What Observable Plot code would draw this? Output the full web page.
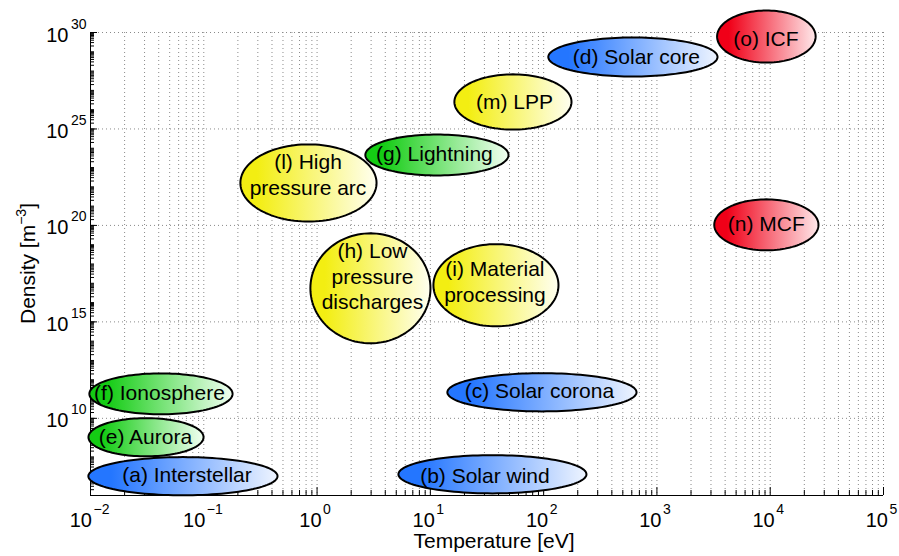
<!DOCTYPE html>
<html>
<head>
<meta charset="utf-8">
<script src="https://cdn.jsdelivr.net/npm/d3@7"></script>
<script src="https://cdn.jsdelivr.net/npm/@observablehq/plot@0.6"></script>
<style>
  html, body { margin: 0; padding: 0; background: #fff; }
  #chart svg { display: block; overflow: visible; }
</style>
</head>
<body>
<div id="chart"></div>
<script>
// ---- Data (log10 units) ----
const names      = ["(a) Interstellar", "(b) Solar wind", "(c) Solar corona", "(d) Solar core",
                    "(e) Aurora", "(f) Ionosphere", "(g) Lightning",
                    "(h) Low\npressure\ndischarges", "(i) Material\nprocessing", "(l) High\npressure arc", "(m) LPP",
                    "(n) MCF", "(o) ICF"];
const groups     = ["blue", "blue", "blue", "blue", "green", "green", "green",
                    "yellow", "yellow", "yellow", "yellow", "red", "red"];
// ellipse centre (log10 T [eV], log10 n [m^-3]) and half-extent in decades
const tempCenter = [-1.184, 1.548, 1.985, 2.788, -1.510, -1.378, 1.058, 0.471, 1.579, -0.076, 1.729, 3.966, 3.966];
const tempHalf   = [0.835, 0.830, 0.835, 0.747, 0.508, 0.632, 0.632, 0.530, 0.552, 0.601, 0.517, 0.460, 0.435];
const densCenter = [7.00, 7.10, 11.35, 28.73, 9.02, 11.27, 23.65, 16.74, 16.90, 22.20, 26.40, 20.03, 29.79];
const densHalf   = [0.99, 0.99, 0.99, 1.01, 0.99, 1.06, 1.06, 2.85, 2.13, 2.00, 1.43, 1.32, 1.35];
// label anchor positions (log10)
const labelTemp  = [-1.148, 1.482, 1.963, 2.819, -1.515, -1.391, 1.036, 0.489, 1.570, -0.080, 1.742, 3.966, 3.962];
const labelDens  = [7.10, 7.05, 11.48, 28.76, 9.09, 11.35, 23.76, 17.40, 17.12, 22.67, 26.45, 20.13, 29.72];

const xExponents = [-2, -1, 0, 1, 2, 3, 4, 5];
const yExponents = [10, 15, 20, 25, 30];
const colorStops = {
  blue:   ["#2476ff", "#eef4ff"],
  green:  ["#14cc14", "#f2fff2"],
  yellow: ["#f3ee12", "#fffff0"],
  red:    ["#f00018", "#ffe8ea"]
};

// ---- Derived ----
const W = 899, H = 556;
const mL = 90, mR = 16, mT = 32, mB = 61;
const plotW = W - mL - mR, plotH = H - mT - mB;
const FONT = "Liberation Sans, Arial, Helvetica, sans-serif";

const outline = [];
const steps = 120;
names.forEach((name, i) => {
  for (let k = 0; k < steps; k++) {
    const a = (2 * Math.PI * k) / steps;
    outline.push({
      id: i, group: groups[i],
      T: Math.pow(10, tempCenter[i] + tempHalf[i] * Math.cos(a)),
      n: Math.pow(10, densCenter[i] + densHalf[i] * Math.sin(a))
    });
  }
});
const labels = names.map((name, i) => ({name, T: Math.pow(10, labelTemp[i]), n: Math.pow(10, labelDens[i])}));

const xMinor = [];
for (let e = -2; e < 5; e++) for (let m = 1; m <= 9; m++) xMinor.push(m * Math.pow(10, e));
xMinor.push(1e5);
const yMinor = [];
for (let e = 6; e < 30; e++) for (let m = 1; m <= 9; m++) yMinor.push(m * Math.pow(10, e));
yMinor.push(1e30);
const xMajor = xExponents.map(e => Math.pow(10, e));
const yMajor = yExponents.map(e => Math.pow(10, e));
const xGrid = xMinor.filter(v => v > 1.0001e-2);

const defs = () => {
  const d = d3.create("svg:defs");
  for (const [key, [c0, c1]] of Object.entries(colorStops)) {
    const g = d.append("linearGradient").attr("id", "g-" + key)
      .attr("x1", 0).attr("x2", 1).attr("y1", 0).attr("y2", 0);
    g.append("stop").attr("offset", "0").attr("stop-color", c0);
    g.append("stop").attr("offset", "0.12").attr("stop-color", c0);
    g.append("stop").attr("offset", "1").attr("stop-color", c1);
  }
  return d.node();
};

const yTitle = (index, scales, values, dims) => {
  const cy = (dims.marginTop + dims.height - dims.marginBottom) / 2;
  const t = d3.create("svg:text")
    .attr("transform", `translate(35,${cy}) rotate(-90)`)
    .attr("text-anchor", "middle")
    .attr("font-family", FONT)
    .attr("font-size", 21)
    .attr("fill", "black");
  t.append("tspan").text("Density [m");
  t.append("tspan").attr("dy", -9).attr("font-size", 14).text("−3");
  t.append("tspan").attr("dy", 9).text("]");
  return t.node();
};

const ellipseMark = (key) => Plot.line(outline.filter(d => d.group === key), {
  x: "T", y: "n", z: "id", curve: "linear-closed",
  fill: `url(#g-${key})`, stroke: "black", strokeWidth: 2
});

const chart = Plot.plot({
  width: W, height: H,
  marginLeft: mL, marginRight: mR, marginTop: mT, marginBottom: mB,
  style: {fontFamily: FONT, background: "white", color: "black"},
  x: {type: "log", domain: [1e-2, 1e5], axis: null},
  y: {type: "log", domain: [1e6, 1e30], axis: null},
  marks: [
    defs,
    // grid
    Plot.ruleX(xGrid, {x: d => d, stroke: "#8a8a8a", strokeWidth: 1, strokeDasharray: "1,3"}),
    Plot.ruleY(yMajor, {y: d => d, stroke: "#8a8a8a", strokeWidth: 1, strokeDasharray: "1,3"}),
    // ticks (inward)
    Plot.ruleX(xMinor.filter(v => !xMajor.some(m => Math.abs(m / v - 1) < 1e-6)), {x: d => d, stroke: "black", insetTop: plotH - 5}),
    Plot.ruleX(xMajor, {x: d => d, stroke: "black", insetTop: plotH - 8}),
    Plot.ruleY(yMinor, {y: d => d, stroke: "black", insetRight: plotW - 4}),
    Plot.ruleY(yMajor, {y: d => d, stroke: "black", insetRight: plotW - 7}),
    // axis lines
    Plot.ruleY([1e6], {stroke: "black", strokeWidth: 1}),
    Plot.ruleX([1e-2], {stroke: "black", strokeWidth: 1}),
    // ellipses
    ellipseMark("yellow"),
    ellipseMark("green"),
    ellipseMark("blue"),
    ellipseMark("red"),
    Plot.text(labels, {x: "T", y: "n", text: "name", fontSize: 21, lineHeight: 1.2, fill: "black", fontFamily: FONT}),
    // x tick labels
    Plot.text(xExponents.filter(e => e < 0), {x: e => Math.pow(10, e), text: () => "10", frameAnchor: "bottom", textAnchor: "end", lineAnchor: "bottom", dx: 1.5, dy: 31, fontSize: 20, fill: "black"}),
    Plot.text(xExponents.filter(e => e >= 0), {x: e => Math.pow(10, e), text: () => "10", frameAnchor: "bottom", textAnchor: "end", lineAnchor: "bottom", dx: 4.5, dy: 31, fontSize: 20, fill: "black"}),
    Plot.text(xExponents.filter(e => e < 0), {x: e => Math.pow(10, e), text: e => "−" + (-e), frameAnchor: "bottom", textAnchor: "start", lineAnchor: "bottom", dx: 3, dy: 18, fontSize: 14, fill: "black"}),
    Plot.text(xExponents.filter(e => e >= 0), {x: e => Math.pow(10, e), text: e => String(e), frameAnchor: "bottom", textAnchor: "start", lineAnchor: "bottom", dx: 6, dy: 18, fontSize: 14, fill: "black"}),
    // y tick labels
    Plot.text(yExponents, {y: e => Math.pow(10, e), text: () => "10", frameAnchor: "left", textAnchor: "end", lineAnchor: "bottom", dx: -22, dy: 9, fontSize: 20, fill: "black"}),
    Plot.text(yExponents, {y: e => Math.pow(10, e), text: e => String(e), frameAnchor: "left", textAnchor: "end", lineAnchor: "bottom", dx: -4, dy: -4, fontSize: 14, fill: "black"}),
    // axis titles
    Plot.text(["Temperature [eV]"], {text: d => d, frameAnchor: "bottom", lineAnchor: "middle", dx: 7, dy: 46, fontSize: 21, fill: "black"}),
    yTitle
  ]
});
document.getElementById("chart").appendChild(chart);
</script>
</body>
</html>
